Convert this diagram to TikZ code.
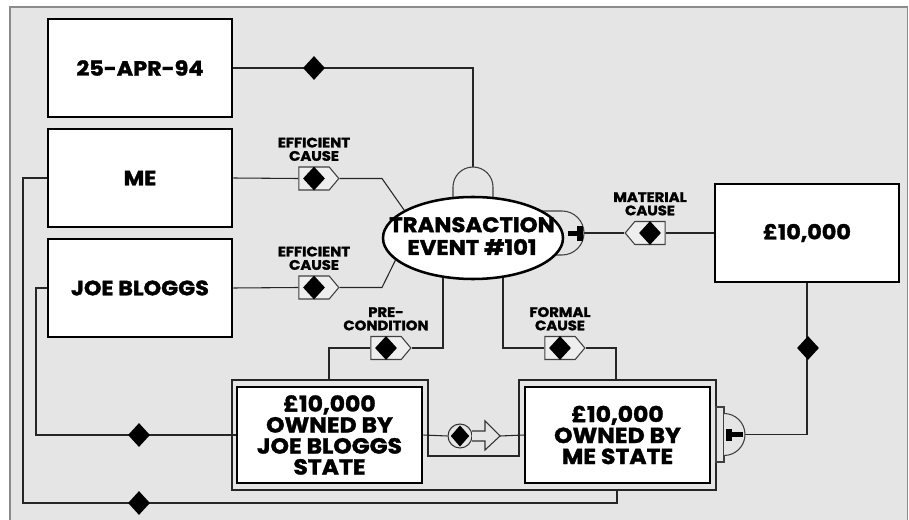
\documentclass[tikz,border=0pt]{standalone}
\usepackage{fontspec}
\setmainfont{Poppins}[BoldFeatures={FakeBold=1.6,FakeStretch=1.08}]
\usetikzlibrary{shapes.geometric,shapes.symbols,calc,positioning}
\pgfdeclarelayer{back}
\pgfdeclarelayer{wires}
\pgfsetlayers{back,wires,main}
\definecolor{panel}{HTML}{E5E5E5}
\definecolor{conn}{HTML}{EEEEEE}
\newcommand\boxfont{\fontsize{15.5}{16}\selectfont\bfseries}
\newcommand\statefont{\fontsize{16.3}{15.75}\selectfont\bfseries}
\newcommand\eventfont{\fontsize{15.8}{17}\selectfont\bfseries}
\newcommand\tagfont{\fontsize{10.3}{10}\selectfont\bfseries}
\begin{document}
\begin{tikzpicture}[x=0.75pt,y=-0.75pt,
  wire/.style={draw=black!85,line width=0.8pt},
  entity/.style={draw,line width=1.9pt,fill=white,inner sep=0pt,align=center,font=\boxfont,
    minimum width=138pt,minimum height=73.5pt},
  statebox/.style={draw,line width=1.9pt,fill=white,inner sep=0pt,align=center,font=\statefont,
    minimum width=138.75pt,minimum height=72pt},
  event/.style={ellipse,draw,line width=1.9pt,fill=white,inner sep=0pt,
    minimum width=135pt,minimum height=61.5pt},
  cause/.style={signal,draw=black!75,fill=conn,line width=0.8pt,inner sep=0pt,
    minimum width=30pt,minimum height=17.25pt,signal pointer angle=100},
  gem/.style={diamond,fill=black,inner sep=0pt,minimum width=16.5pt,minimum height=18pt},
  tag/.style={align=center,font=\tagfont,inner sep=0pt},
  tabline/.style={draw=black!75,line width=0.8pt,fill=panel},
  tbar/.style={line width=3.5pt}]
\useasboundingbox (0,0) rectangle (909,520);

% panel
\begin{pgfonlayer}{back}
  \fill[white] (0,0) rectangle (909,520);
  \draw[draw=black!45,line width=1.2pt,fill=panel] (10,7) rectangle (907.5,530);
\end{pgfonlayer}

% tabs sitting under the event ellipse
\draw[tabline] (453,200) -- (453,187) arc (180:360:20) -- (493,200);
\draw[tabline] (540,211) -- (562,211) arc (-90:90:22) -- (540,255);
\coordinate (ttop) at (473,167);
\coordinate (etab) at (584,233);

% entities
\node[entity] (date)  at (140,68)  {25-APR-94};
\node[entity] (me)    at (140,178) {ME};
\node[entity] (joe)   at (140,288) {JOE BLOGGS};
\node[entity] (money) at (807,233) {£10,000};
\node[event]  (ev)    at (473,238) {};
\node[align=center,font=\eventfont,inner sep=0pt] (evtext) at (472,236) {TRANSACTION\\EVENT \#101};

% T bar in the event's right tab
\draw[tbar] (568,233.5) -- (580,233.5);
\draw[line width=4pt] (580,226.5) -- (580,240.5);

% states and their shared frame
\coordinate (f1) at (232,380);
\coordinate (f2) at (428,380);
\coordinate (f3) at (428,456);
\coordinate (f4) at (519,456);
\coordinate (f5) at (519,380);
\coordinate (f6) at (716,380);
\coordinate (f7) at (716,490);
\coordinate (f8) at (232,490);
\draw[wire] (f1) -- (f2) -- (f3) -- (f4) -- (f5) -- (f6) -- (f7) -- (f8) -- cycle;
\node[statebox] (jstate) at (329.5,435) {£10,000\\OWNED BY\\JOE BLOGGS\\STATE};
\node[statebox] (mstate) at (617.5,435) {£10,000\\OWNED BY\\ME STATE};

% tab on the right of the ME state
\draw[tabline] (716,407) rectangle (724,462);
\draw[tabline] (724,413.5) arc (-90:90:21);
\draw[tbar] (727,434.5) -- (743,434.5);
\draw[line width=4pt] (729,428.5) -- (729,440.5);
\coordinate (stab) at (745,434.5);

% causal connectors
\node[cause,signal to=east] (ec1) at (314,178.5) {};
\node[gem] at (ec1) {};
\node[tag,above=4pt of ec1] {EFFICIENT\\CAUSE};
\node[cause,signal to=east] (ec2) at (314,287.5) {};
\node[gem] at (ec2) {};
\node[tag,above=4pt of ec2] {EFFICIENT\\CAUSE};
\node[cause,signal to=west] (mc) at (650,233) {};
\node[gem] at (mc) {};
\node[tag,above=4pt of mc] {MATERIAL\\CAUSE};
\node[cause,signal to=east] (pc) at (386,348) {};
\node[gem] at (pc) {};
\node[tag,above=4pt of pc] {PRE-\\CONDITION};
\node[cause,signal to=east] (fc) at (560,348) {};
\node[gem] at (fc) {};
\node[tag,above=4pt of fc] {FORMAL\\CAUSE};

% plain diamonds on links
\node[gem] (d1) at (314,68) {};
\node[gem] (d2) at (808,348) {};
\node[gem] (d3) at (139,435) {};
\node[gem] (d4) at (139,503) {};

% transition between the states
\node[circle,draw=black!80,line width=0.8pt,fill=panel,minimum size=18pt,inner sep=0pt] (tc) at (460,436) {};
\node[diamond,fill=black,inner sep=0pt,minimum width=14pt,minimum height=16pt] at (tc) {};
\draw[draw=black!80,line width=0.8pt,fill=panel]
  (472,431) -- (485,431) -- (485,421) -- (500,436) -- (485,450) -- (485,441) -- (472,441);
\coordinate (atip) at (500,436);

\begin{pgfonlayer}{wires}
  \draw[wire] (date.east) -| (ttop);
  \draw[wire] (me.east) -- (ec1.west);
  \coordinate (k1) at (382,178.5);
  \draw[wire] (ec1.east) -- (k1) -- (ev.158);
  \draw[wire] (joe.east) -- (ec2.west);
  \coordinate (k2) at (382,287.5);
  \draw[wire] (ec2.east) -- (k2) -- (ev.196);
  \draw[wire] (etab) -- (mc.west);
  \draw[wire] (mc.east) -- (money.west);
  \coordinate (p1) at (443,250);
  \coordinate (p2) at (443,348);
  \coordinate (p3) at (329,348);
  \draw[wire] (p1) -- (p2) -- (pc.east);
  \draw[wire] (pc.west) -- (p3) -- (p3 |- f1);
  \coordinate (q1) at (503,250);
  \coordinate (q2) at (503,348);
  \coordinate (q3) at (616,348);
  \draw[wire] (q1) -- (q2) -- (fc.west);
  \draw[wire] (fc.east) -- (q3) -- (q3 |- f6);
  \draw[wire] (money.south) |- (stab);
  \coordinate (m1) at (23,178);
  \coordinate (m2) at (23,503);
  \coordinate (m3) at (617,503);
  \draw[wire] (me.west) -- (m1) -- (m2) -- (m3) -- (m3 |- f8);
  \coordinate (j1) at (36,288);
  \coordinate (j2) at (36,435);
  \draw[wire] (joe.west) -- (j1) -- (j2) -- (jstate.west);
  \draw[wire] (jstate.east) -- (tc.west);
  \draw[wire] (atip) -- (mstate.west);
\end{pgfonlayer}
\end{tikzpicture}
\end{document}
